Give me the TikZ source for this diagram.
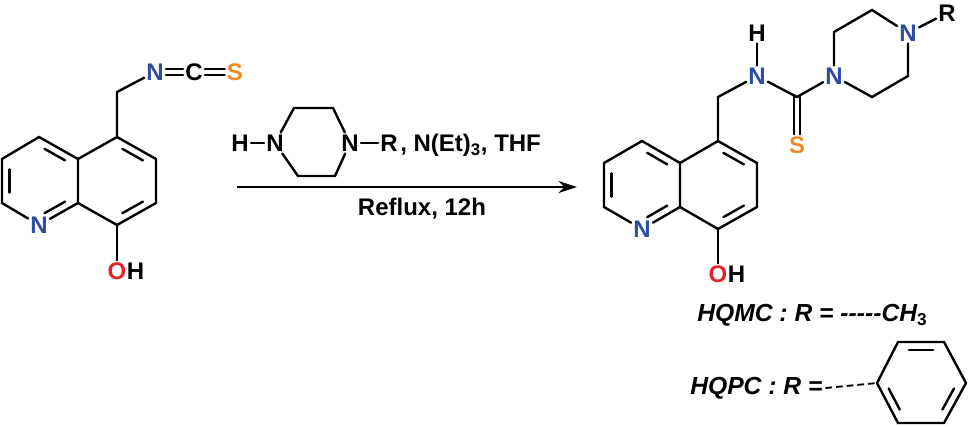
\documentclass[tikz,border=0pt]{standalone}
\usepackage{fontspec}
\setmainfont{Liberation Sans}
\usetikzlibrary{calc,arrows.meta}
\definecolor{nblue}{HTML}{2E4DA0}
\definecolor{sorange}{HTML}{F08A24}
\definecolor{ored}{HTML}{E8202A}
\begin{document}
\begin{tikzpicture}[x=0.75pt,y=-0.75pt,
  bond/.style={line width=1.8pt,line cap=round},
  atom/.style={inner sep=1.5pt,font=\fontsize{18}{21}\selectfont\bfseries},
  lbl/.style={inner sep=0pt,font=\fontsize{18.5}{22}\selectfont\bfseries\itshape,anchor=west}]
\useasboundingbox (0,0) rectangle (968,426);
\newcommand{\dbl}[3]{\draw[bond] ($($(#1)!0.17!(#2)$)!0.2!(#3)$) -- ($($(#2)!0.17!(#1)$)!0.2!(#3)$);}
% ---------- left molecule
\foreach \n/\x/\y in {a5/117/137,a6/156/159,a7/156/203,a8/117/225,a8a/78/203,a4a/78/159,a4/39/137,a3/2/159,a2/2/203,aCH/117/92}
  \coordinate (\n) at (\x,\y);
\coordinate (ac1) at (117,181); \coordinate (ac2) at (40,181);
\node[atom,text=nblue] (aN1) at (39,225) {N};
\node[atom,text=ored] (aO) at (117,271) {O};
\node[atom,anchor=west,inner sep=0pt] (aH) at ([xshift=-1.5pt]aO.east) {H};
\node[atom,text=nblue] (aNi) at (155,72) {N};
\node[atom] (aC) at (194,72) {C};
\node[atom,text=sorange] (aS) at (235,72) {S};
\draw[bond] (a5)--(a6)--(a7)--(a8)--(a8a)--(a4a)--(a5);
\draw[bond] (a4a)--(a4)--(a3)--(a2)--(aN1)--(a8a);
\draw[bond] (a8)--(aO); \draw[bond] (a5)--(aCH)--(aNi);
\dbl{a5}{a6}{ac1}\dbl{a7}{a8}{ac1}\dbl{a4}{a4a}{ac2}\dbl{a3}{a2}{ac2}\dbl{aN1}{a8a}{ac2}
\draw[bond] ([yshift=-2.2pt]aNi.east)--([yshift=-2.2pt]aC.west) ([yshift=2.2pt]aNi.east)--([yshift=2.2pt]aC.west);
\draw[bond] ([yshift=-2.2pt]aC.east)--([yshift=-2.2pt]aS.west) ([yshift=2.2pt]aC.east)--([yshift=2.2pt]aS.west);
% ---------- reagent
\node[atom] (rH) at (240,143) {H};
\node[atom] (rN1) at (275,143) {N};
\node[atom] (rN2) at (350,143) {N};
\node[atom] (rR) at (389,143) {R};
\node[atom,anchor=west] (rt) at (398,145) {, N(Et)$_\mathbf{3}$, THF};
\coordinate (p1) at (294,108); \coordinate (p2) at (333,108);
\coordinate (p3) at (335,176); \coordinate (p4) at (298,176);
\draw[bond] (rH)--(rN1); \draw[bond] (rN2)--(rR);
\draw[bond] (rN1)--(p1)--(p2)--(rN2)--(p3)--(p4)--(rN1);
\coordinate (arA) at (237,187); \coordinate (arB) at (577,187);
\draw[line width=1.6pt,-{Stealth[length=14pt,width=9pt]}] (arA)--(arB);
\node[atom] (rf) at (422,209) {Reflux, 12h};
% ---------- product
\foreach \n/\x/\y in {b5/718/141,b6/757/163,b7/757/207,b8/718/229,b8a/680/207,b4a/680/163,b4/642/141,b3/604/163,b2/604/207,bCH/718/97,bC/797/97,q1/834/32,q2/872/10,q4/908/76,q5/872/97}
  \coordinate (\n) at (\x,\y);
\coordinate (bc1) at (718,185); \coordinate (bc2) at (642,185);
\node[atom,text=nblue] (bN1) at (642,229) {N};
\node[atom,text=ored] (bO) at (718,274) {O};
\node[atom,anchor=west,inner sep=0pt] (bH) at ([xshift=-1.5pt]bO.east) {H};
\node[atom,text=nblue] (bNH) at (757,76) {N};
\node[atom] (bHH) at (757,33) {H};
\node[atom,text=sorange] (bS) at (797,145) {S};
\node[atom,text=nblue] (bNp) at (834,76) {N};
\node[atom,text=nblue] (bN4) at (908,33) {N};
\node[atom] (bR) at (947,13) {R};
\draw[bond] (b5)--(b6)--(b7)--(b8)--(b8a)--(b4a)--(b5);
\draw[bond] (b4a)--(b4)--(b3)--(b2)--(bN1)--(b8a);
\dbl{b5}{b6}{bc1}\dbl{b7}{b8}{bc1}\dbl{b4}{b4a}{bc2}\dbl{b3}{b2}{bc2}\dbl{bN1}{b8a}{bc2}
\draw[bond] (b8)--(bO); \draw[bond] (b5)--(bCH)--(bNH)--(bC)--(bNp);
\draw[bond] (bNH)--(bHH);
\draw[bond] ([xshift=-2.2pt]bC)--([xshift=-2.2pt]bS.north) ([xshift=2.2pt]bC)--([xshift=2.2pt]bS.north);
\draw[bond] (bNp)--(q1)--(q2)--(bN4)--(q4)--(q5)--(bNp);
\draw[bond] (bN4)--(bR);
% ---------- labels
\node[lbl] (l1) at (697,315) {HQMC : R = {-}{-}{-}{-}{-}CH$_\mathbf{3}$};
\node[lbl] (l2) at (690,388) {HQPC : R =};
\foreach \n/\x/\y in {z1/877/383,z2/898/342,z3/944/342,z4/966/383,z5/944/423,z6/898/423}
  \coordinate (\n) at (\x,\y);
\coordinate (zc) at (921,383);
\draw[line width=1.4pt,dash pattern=on 5pt off 3pt] ([xshift=2pt]l2.east)--(z1);
\draw[bond] (z1)--(z2)--(z3)--(z4)--(z5)--(z6)--cycle;
\dbl{z2}{z3}{zc}\dbl{z4}{z5}{zc}\dbl{z6}{z1}{zc}
\end{tikzpicture}
\end{document}
